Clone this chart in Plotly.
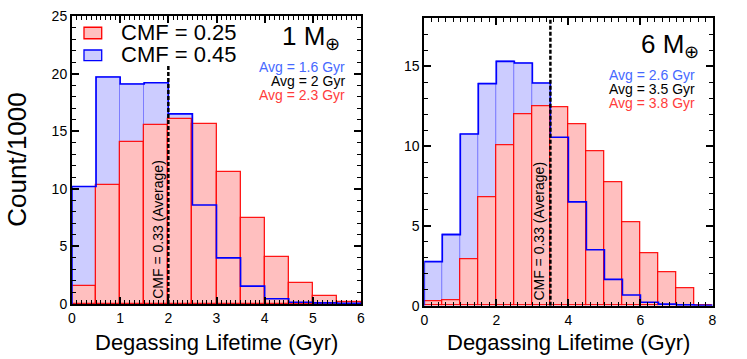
import plotly.graph_objects as go

# ---- data (counts / 1000 per 0.5 Gyr bin) ----
bin_width = 0.5
m1_bin_left = [0.0, 0.5, 1.0, 1.5, 2.0, 2.5, 3.0, 3.5, 4.0, 4.5, 5.0, 5.5]
m1_cmf045 = [10.2, 19.7, 19.1, 19.2, 16.5, 8.6, 4.0, 1.55, 0.45, 0.15, 0.1, 0.05]
m1_cmf025 = [1.55, 10.35, 14.1, 15.5, 16.1, 15.6, 11.45, 7.5, 4.05, 1.85, 0.7, 0.2]

m6_bin_left = [0.0, 0.5, 1.0, 1.5, 2.0, 2.5, 3.0, 3.5, 4.0, 4.5, 5.0, 5.5, 6.0, 6.5, 7.0, 7.5]
m6_cmf045 = [2.75, 4.45, 10.75, 13.9, 15.3, 15.2, 13.95, 10.55, 6.5, 3.5, 1.65, 0.67, 0.22, 0.1, 0.05, 0.02]
m6_cmf025 = [0.27, 0.32, 2.9, 6.8, 10.05, 12.0, 12.5, 12.45, 11.35, 9.7, 7.7, 5.25, 3.3, 2.1, 1.12, 0.0]

m1_avgs = {"CMF=0.45": 1.6, "CMF=0.33": 2, "CMF=0.25": 2.3}
m6_avgs = {"CMF=0.45": 2.6, "CMF=0.33": 3.5, "CMF=0.25": 3.8}

panel_labels = ["1 M<sub>⊕</sub>", "6 M<sub>⊕</sub>"]
x_ranges = [[0, 6], [0, 8]]
y_ranges = [[0, 25], [0, 18]]
x_dticks = [1, 2]
x_minor = [0.1, 0.2]

W, H = 747, 359
FONT = "Liberation Sans, Arial, Helvetica, sans-serif"
BLUE_FILL = "#ccccff"
RED_FILL = "#ffbfbf"
BLUE_TXT = "rgb(70,105,255)"
RED_TXT = "rgb(255,60,60)"

fig = go.Figure()


def add_panel(xa, ya, left, blue, red):
    centers = [l + bin_width / 2 for l in left]
    edges = left + [left[-1] + bin_width]
    fig.add_trace(go.Bar(x=centers, y=blue, width=bin_width, xaxis=xa, yaxis=ya,
                         marker=dict(color=BLUE_FILL, line=dict(color="rgba(60,60,255,0.45)", width=1)),
                         showlegend=False, hoverinfo="x+y"))
    fig.add_trace(go.Bar(x=centers, y=red, width=bin_width, xaxis=xa, yaxis=ya,
                         marker=dict(color=RED_FILL, line=dict(color="rgba(255,0,0,0.9)", width=1.3)),
                         showlegend=False, hoverinfo="x+y"))
    xs = [edges[0]] + edges[:-1] + [edges[-1], edges[-1]]
    ys = [0] + blue + [blue[-1], 0]
    fig.add_trace(go.Scatter(x=xs, y=ys, mode="lines", line=dict(color="#0000ff", width=1.6, shape="hv"),
                             xaxis=xa, yaxis=ya, showlegend=False, hoverinfo="skip"))


add_panel("x", "y", m1_bin_left, m1_cmf045, m1_cmf025)
add_panel("x2", "y2", m6_bin_left, m6_cmf045, m6_cmf025)

ax_common = dict(showgrid=False, zeroline=False, showline=True, linecolor="black", linewidth=2,
                 mirror="allticks", ticks="inside", tickcolor="black", tickwidth=1.5, ticklen=7,
                 automargin=False,
                 tickfont=dict(family=FONT, size=14, color="black"))

fig.update_layout(
    width=W, height=H, margin=dict(l=0, r=0, t=0, b=0, autoexpand=False),
    paper_bgcolor="white", plot_bgcolor="white", barmode="overlay", bargap=0,
    font=dict(family=FONT, color="black"),
    xaxis=dict(domain=[72 / W, 361 / W], range=x_ranges[0], dtick=x_dticks[0], anchor="y",
               minor=dict(dtick=x_minor[0], ticks="inside", ticklen=4, tickwidth=1, tickcolor="black"),
               **ax_common),
    yaxis=dict(domain=[1 - 304 / H, 1 - 16 / H], range=y_ranges[0], dtick=5, anchor="x",
               minor=dict(dtick=1, ticks="inside", ticklen=4, tickwidth=1, tickcolor="black"),
               **ax_common),
    xaxis2=dict(domain=[424.3 / W, 712.5 / W], range=x_ranges[1], dtick=x_dticks[1], anchor="y2",
                minor=dict(dtick=x_minor[1], ticks="inside", ticklen=4, tickwidth=1, tickcolor="black"),
                **ax_common),
    yaxis2=dict(domain=[1 - 305.7 / H, 1 - 18.3 / H], range=y_ranges[1], dtick=5, anchor="x2",
                minor=dict(dtick=1, ticks="inside", ticklen=4, tickwidth=1, tickcolor="black"),
                **ax_common),
)

shapes = []
annos = []

# average dashed lines
for xr, yr, avgs, ytop in (("x", "y", m1_avgs, 20.7), ("x2", "y2", m6_avgs, y_ranges[1][1])):
    xv = avgs["CMF=0.33"]
    shapes.append(dict(type="line", xref=xr, yref=yr, x0=xv, x1=xv, y0=0, y1=ytop,
                       line=dict(color="black", width=2.5, dash="4px,2px"), layer="above"))
    annos.append(dict(text="CMF = 0.33 (Average)", xref=xr, yref=yr, x=xv, y=0, xanchor="right",
                      yanchor="bottom", xshift=-1, yshift=3, textangle=-90, showarrow=False,
                      font=dict(size=14, family=FONT, color="black")))

# legend (left panel)
for (y0, y1, fill, edge, txt, ty) in ((0.921, 0.961, RED_FILL, "red", "CMF = 0.25", 0.944),
                                      (0.845, 0.882, BLUE_FILL, "blue", "CMF = 0.45", 0.868)):
    shapes.append(dict(type="rect", xref="x domain", yref="y domain", x0=0.0415, x1=0.1028, y0=y0, y1=y1,
                       fillcolor=fill, line=dict(color=edge, width=1.3), layer="above"))
    annos.append(dict(text=txt, xref="x domain", yref="y domain", x=0.163, y=ty, xanchor="left",
                      yanchor="middle", showarrow=False, font=dict(size=22, family=FONT, color="black")))

# panel labels and average values
for xr, yr, lab, lx, ly, avgs, ax_, rows in (
        ("x domain", "y domain", panel_labels[0], 0.935, 0.925, m1_avgs, 0.952, (0.824, 0.774, 0.726)),
        ("x2 domain", "y2 domain", panel_labels[1], 0.959, 0.907, m6_avgs, 0.946, (0.803, 0.754, 0.705))):
    annos.append(dict(text=lab, xref=xr, yref=yr, x=lx, y=ly, xanchor="right", yanchor="middle",
                      showarrow=False, font=dict(size=26, family=FONT, color="black")))
    for key, col, ry in (("CMF=0.45", BLUE_TXT, rows[0]), ("CMF=0.33", "black", rows[1]),
                         ("CMF=0.25", RED_TXT, rows[2])):
        annos.append(dict(text=f"Avg = {avgs[key]:g} Gyr", xref=xr, yref=yr, x=ax_, y=ry, xanchor="right",
                          yanchor="middle", showarrow=False, font=dict(size=14, family=FONT, color=col)))

# axis titles
annos.append(dict(text="Count/1000", xref="paper", yref="paper", x=16.7 / W, y=1 - 160 / H, textangle=-90,
                  showarrow=False, xanchor="center", yanchor="middle",
                  font=dict(size=26, family=FONT, color="black")))
for xr in ("x domain", "x2 domain"):
    annos.append(dict(text="Degassing Lifetime (Gyr)", xref=xr, yref="paper", x=0.5, y=1 - 342.5 / H,
                      showarrow=False, xanchor="center", yanchor="middle",
                      font=dict(size=22, family=FONT, color="black")))

fig.update_layout(shapes=shapes, annotations=annos)
fig.write_html("out.html", config={"displayModeBar": False},
               post_script="document.body.style.margin='0';document.body.style.overflow='hidden';")
